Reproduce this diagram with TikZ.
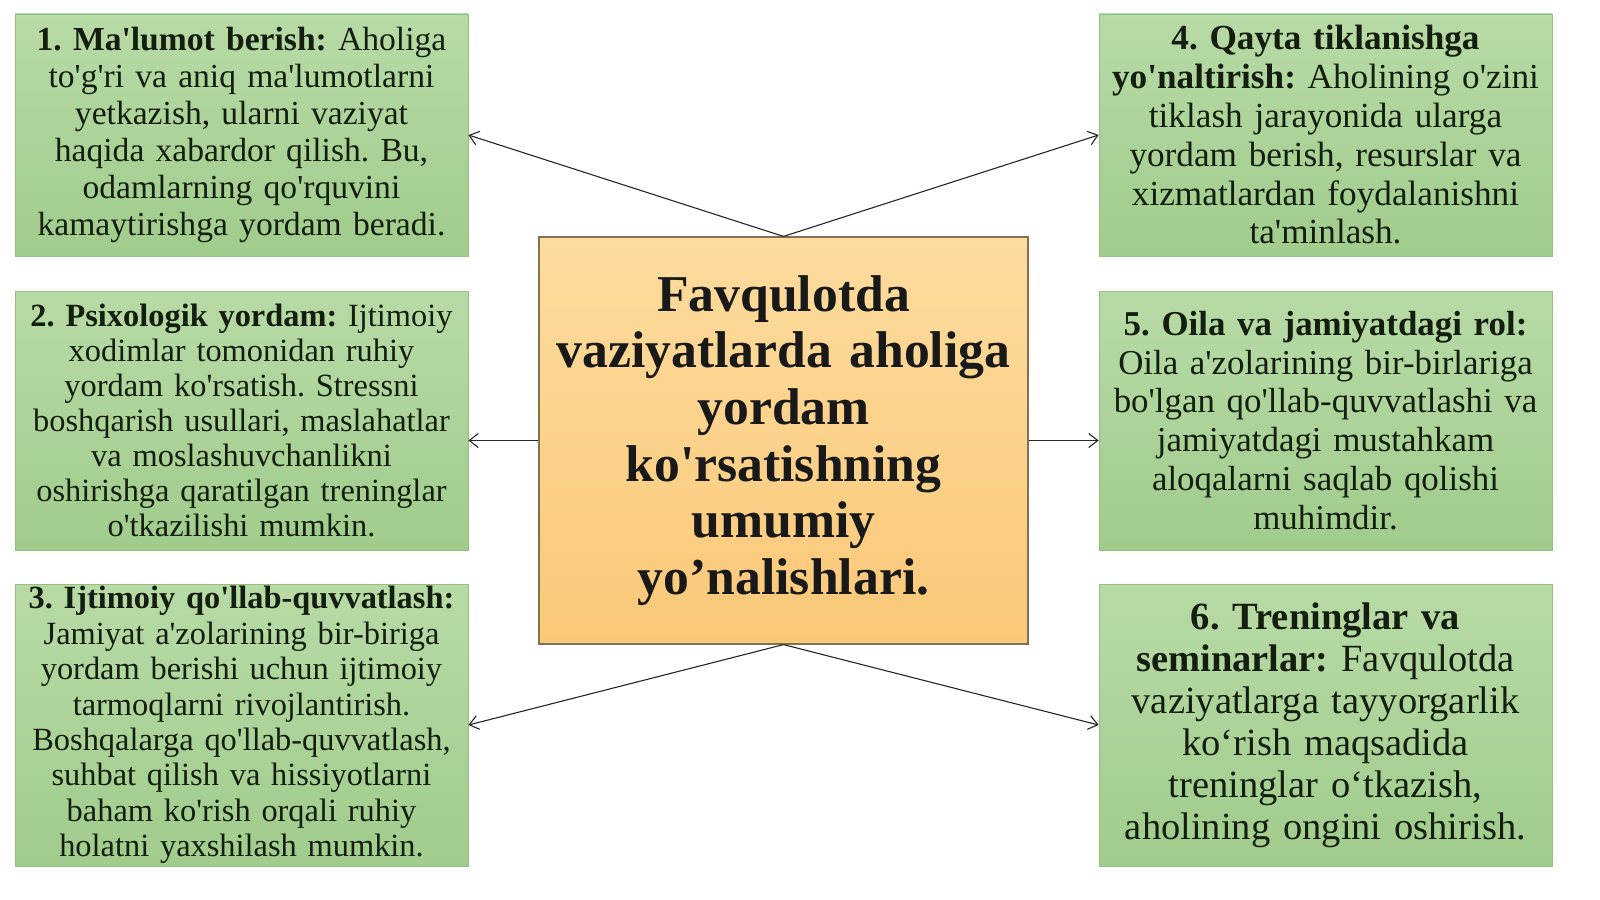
\documentclass[tikz,border=0pt]{standalone}
\usepackage{fontspec}
\setmainfont{Liberation Serif}[Ligatures=TeXOff]
\usetikzlibrary{arrows.meta}
\definecolor{gtop}{RGB}{184,218,166}
\definecolor{gbot}{RGB}{160,204,140}
\definecolor{gline}{RGB}{150,190,130}
\definecolor{otop}{RGB}{253,220,158}
\definecolor{obot}{RGB}{250,200,120}
\definecolor{oline}{RGB}{130,115,80}
\definecolor{txt}{RGB}{20,30,15}
\tikzset{
  gbox/.style={draw=gline, line width=0.8pt, top color=gtop, bottom color=gbot,
    minimum width=453pt, text width=445pt, inner xsep=4pt, inner ysep=0pt,
    align=center, text=txt, anchor=center},
  cbox/.style={draw=oline, line width=1.2pt, top color=otop, bottom color=obot,
    minimum width=489pt, minimum height=407pt, text width=480pt, inner xsep=4pt,
    align=center, anchor=center, font=\bfseries\fontsize{51.7}{56.6}\selectfont, text=black!90},
  conn/.style={line width=1.1pt, black!85, -{Straight Barb[length=9pt,width=14pt,line width=1.1pt]}}
}
\begin{document}
\frenchspacing
\begin{tikzpicture}[x=1pt,y=-1pt]
\useasboundingbox[fill=white] (0,0) rectangle (1600,899);
\node[cbox] (c) at (783.5,440.5) {Favqulotda\\vaziyatlarda aholiga\\yordam\\ko'rsatishning\\umumiy\\yo’nalishlari.};
\node[gbox, minimum height=242pt, font=\fontsize{33.6}{37}\selectfont] (b1) at (241.5,135)
 {\textbf{1. Ma'lumot berish:} Aholiga\\to'g'ri va aniq ma'lumotlarni\\yetkazish, ularni vaziyat\\haqida xabardor qilish. Bu,\\odamlarning qo'rquvini\\kamaytirishga yordam beradi.};
\node[gbox, minimum height=259pt, font=\fontsize{32.4}{35}\selectfont] (b2) at (241.5,420.5)
 {\textbf{2. Psixologik yordam:} Ijtimoiy\\xodimlar tomonidan ruhiy\\yordam ko'rsatish. Stressni\\boshqarish usullari, maslahatlar\\va moslashuvchanlikni\\oshirishga qaratilgan treninglar\\o'tkazilishi mumkin.};
\node[gbox, minimum height=282pt, font=\fontsize{32.4}{35.4}\selectfont] (b3) at (241.5,725)
 {\textbf{3. Ijtimoiy qo'llab-quvvatlash:}\\Jamiyat a'zolarining bir-biriga\\yordam berishi uchun ijtimoiy\\tarmoqlarni rivojlantirish.\\Boshqalarga qo'llab-quvvatlash,\\suhbat qilish va hissiyotlarni\\baham ko'rish orqali ruhiy\\holatni yaxshilash mumkin.};
\node[gbox, minimum height=242pt, font=\fontsize{35.2}{38.8}\selectfont] (b4) at (1325.5,135)
 {\textbf{4. Qayta tiklanishga}\\\textbf{yo'naltirish:} Aholining o'zini\\tiklash jarayonida ularga\\yordam berish, resurslar va\\xizmatlardan foydalanishni\\ta'minlash.};
\node[gbox, minimum height=259pt, font=\fontsize{34.9}{38.8}\selectfont] (b5) at (1325.5,420.5)
 {\textbf{5. Oila va jamiyatdagi rol:}\\Oila a'zolarining bir-birlariga\\bo'lgan qo'llab-quvvatlashi va\\jamiyatdagi mustahkam\\aloqalarni saqlab qolishi\\muhimdir.};
\node[gbox, minimum height=282pt, font=\fontsize{38.5}{42}\selectfont] (b6) at (1325.5,725)
 {\textbf{6. Treninglar va}\\\textbf{seminarlar:} Favqulotda\\vaziyatlarga tayyorgarlik\\ko‘rish maqsadida\\treninglar o‘tkazish,\\aholining ongini oshirish.};
\draw[conn] (c.north) -- (b1.east);
\draw[conn] (c.north) -- (b4.west);
\draw[conn] (c.west) -- (c.west -| b2.east);
\draw[conn] (c.east) -- (c.east -| b5.west);
\draw[conn] (c.south) -- (b3.east);
\draw[conn] (c.south) -- (b6.west);
\end{tikzpicture}
\end{document}
